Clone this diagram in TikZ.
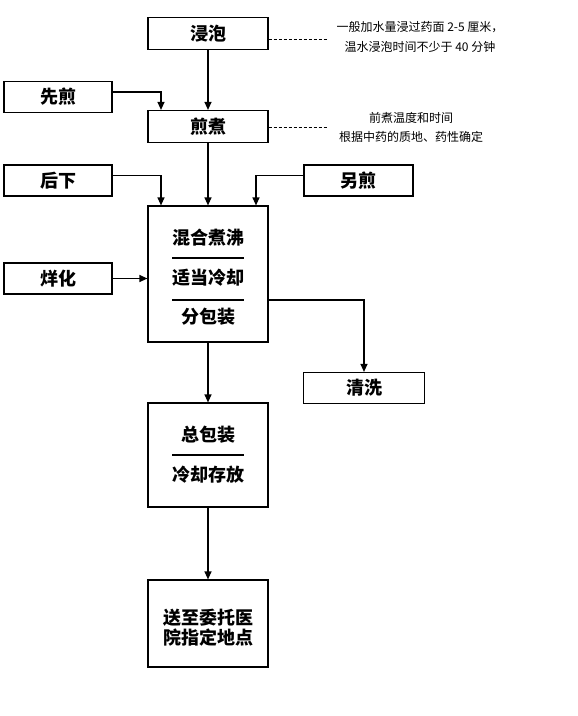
\documentclass[tikz,border=0pt]{standalone}
\usepackage{fontspec}
\usepackage{tikz}
\usetikzlibrary{arrows.meta, positioning, calc}
\newfontfamily\cjk{Noto Sans CJK SC}
\tikzset{
  stepbox/.style={rectangle, draw=black, fill=white, line width=1.2pt,
    minimum width=120pt, minimum height=32pt, inner sep=0pt,
    font=\cjk\bfseries\fontsize{18}{20}\selectfont},
  sidebox/.style={stepbox, minimum width=108pt, minimum height=31pt},
  label/.style={inner sep=0pt, align=center, font=\cjk\bfseries\fontsize{18}{20}\selectfont},
  note/.style={inner sep=0pt, align=center, font=\cjk\fontsize{12}{19.5}\selectfont},
  arrow/.style={-{Triangle[length=8pt, width=7pt]}, line width=1.2pt, color=black},
  line/.style={line width=1.2pt, color=black},
  noteline/.style={dashed, line width=0.6pt, dash pattern=on 3pt off 2pt}
}
\begin{document}
\begin{tikzpicture}[x=1pt, y=-1pt]
  \useasboundingbox (0,0) rectangle (578,716);

  % Main column
  \node[stepbox] (soak) at (208,33.5) {浸泡};
  \node[stepbox] (boil) at (208,126.5) {煎煮};
  \node[stepbox, minimum height=136pt] (mix) at (208,274) {};
  \node[stepbox, minimum height=104pt] (pack) at (208,455) {};
  \node[stepbox, minimum height=87pt] (deliver) at (208,623.5) {};

  % Side boxes
  \node[sidebox] (pre) at (58,97) {先煎};
  \node[sidebox] (late) at (58,180.5) {后下};
  \node[sidebox, minimum width=109pt] (other) at (358.5,180.5) {另煎};
  \node[sidebox] (melt) at (58,278.5) {烊化};
  \node[sidebox, minimum width=121pt] (wash) at (364,388) {清洗};

  % Texts inside the tall boxes
  \node[label] (mixA) at (208,238) {混合煮沸};
  \node[label] (mixB) at (208,278) {适当冷却};
  \node[label] (mixC) at (208,317) {分包装};
  \draw[line] (172,258) -- (244,258);
  \draw[line] (172,300) -- (244,300);
  \node[label] (packA) at (208,435) {总包装};
  \node[label] (packB) at (208,475) {冷却存放};
  \draw[line] (172,455) -- (244,455);
  \node[label] (deliverA) at (208,628) {送至委托医\\院指定地点};

  % Notes
  \coordinate (soakend) at (328,39);
  \coordinate (boilend) at (328,127);
  \draw[noteline] (soak.east |- soakend) -- (soakend);
  \draw[noteline] (boil.east |- boilend) -- (boilend);
  \node[note] (soaknote) at (420,37) {一般加水量浸过药面 2-5 厘米，\\温水浸泡时间不少于 40 分钟};
  \node[note] (boilnote) at (411,127.5) {前煮温度和时间\\根据中药的质地、药性确定};

  % Arrows
  \draw[arrow] (soak.south) -- (boil.north);
  \draw[arrow] ([yshift=5pt]pre.east) -| ([xshift=-47pt]boil.north);
  \draw[arrow] (boil.south) -- (mix.north);
  \draw[arrow] ([yshift=5pt]late.east) -| ([xshift=-47pt]mix.north);
  \draw[arrow] ([yshift=5pt]other.west) -| ([xshift=48pt]mix.north);
  \draw[arrow] (melt.east) -- (melt.east -| mix.west);
  \draw[arrow] ([yshift=-26pt]mix.east) -| (wash.north);
  \draw[arrow] (mix.south) -- (pack.north);
  \draw[arrow] (pack.south) -- (deliver.north);
\end{tikzpicture}
\end{document}
